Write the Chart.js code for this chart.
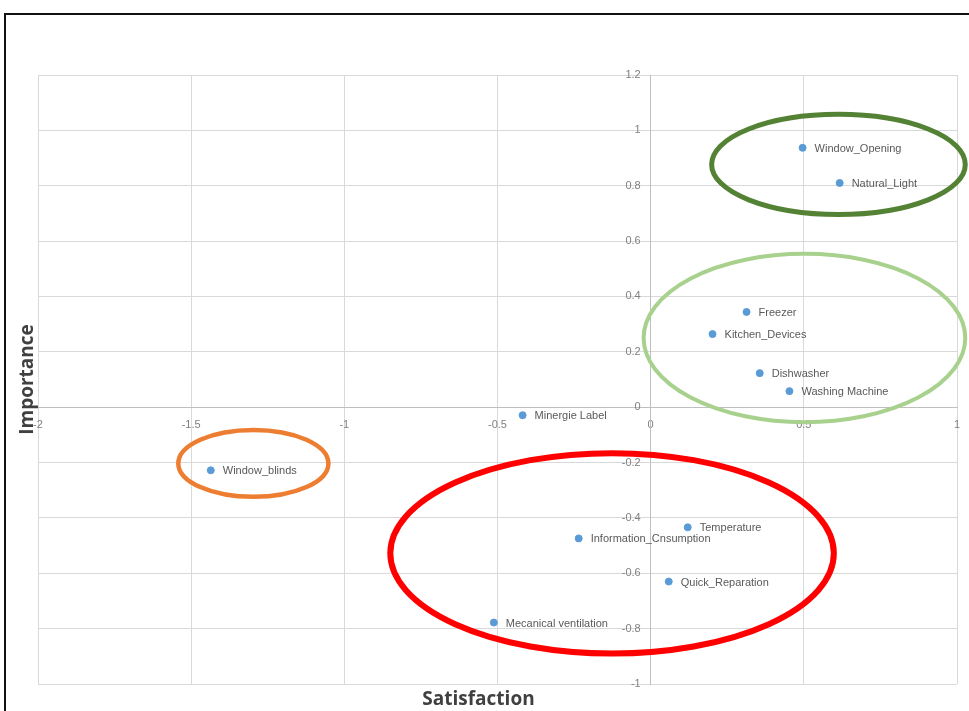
<!DOCTYPE html>
<html>
<head>
<meta charset="utf-8">
<script src="https://cdn.jsdelivr.net/npm/chart.js@4/dist/chart.umd.min.js"></script>
<style>
  html, body { margin: 0; padding: 0; background: #fff; overflow: hidden; }
  #frame { position: absolute; left: 4px; top: 13px; width: 2000px; height: 2000px; border: 2px solid #111; }
  #wrap { position: absolute; left: 0; top: 0; width: 969px; height: 711px; }
</style>
</head>
<body>
<div id="frame"></div>
<div id="wrap"><canvas id="c" width="969" height="711"></canvas></div>
<script>
// ---- data ----
const itemNames = ["Window_Opening", "Natural_Light", "Freezer", "Kitchen_Devices", "Dishwasher",
  "Washing Machine", "Minergie Label", "Window_blinds", "Temperature", "Information_Cnsumption",
  "Quick_Reparation", "Mecanical ventilation"];
const satisfaction = [0.496, 0.617, 0.313, 0.202, 0.356, 0.453, -0.418, -1.436, 0.121, -0.235, 0.059, -0.512];
const importance   = [0.937, 0.810, 0.344, 0.264, 0.123, 0.058, -0.029, -0.228, -0.434, -0.474, -0.630, -0.778];
const xTickValues = [-2, -1.5, -1, -0.5, 0, 0.5, 1];
const yTickValues = [-1, -0.8, -0.6, -0.4, -0.2, 0, 0.2, 0.4, 0.6, 0.8, 1, 1.2];
const axisTitleX = "Satisfaction";
const axisTitleY = "Importance";
// cluster ellipses (data units): centre x, centre y, radius x, radius y
const ellipseCx = [0.613, 0.502, -1.297, -0.126];
const ellipseCy = [0.877, 0.250, -0.203, -0.528];
const ellipseRx = [0.414, 0.525, 0.245, 0.724];
const ellipseRy = [0.181, 0.304, 0.121, 0.362];
const ellipseColors = ["#548235", "#a9d18e", "#ed7d31", "#ff0000"];
const ellipseWidths = [5, 4, 4.5, 6];

const points = satisfaction.map((x, i) => ({ x: x, y: importance[i] }));

const pointLabelPlugin = {
  id: 'pointLabels',
  afterDatasetsDraw(chart) {
    const ctx = chart.ctx;
    const meta = chart.getDatasetMeta(0);
    ctx.save();
    ctx.font = '11px "Liberation Sans", Arial, sans-serif';
    ctx.fillStyle = '#595959';
    ctx.textAlign = 'left';
    ctx.textBaseline = 'middle';
    meta.data.forEach((el, i) => {
      ctx.fillText(itemNames[i], el.x + 12, el.y + 1);
    });
    ctx.restore();
  }
};

// push the y tick labels a little away from the centred axis line
const yLabelGapPlugin = {
  id: 'yLabelGap',
  beforeDraw(chart) {
    const items = chart.scales.y.getLabelItems();
    if (!items._shifted) {
      items.forEach(it => { it.options.translation[0] -= 10; });
      items._shifted = true;
    }
  }
};

const ellipsePlugin = {
  id: 'clusterEllipses',
  afterDraw(chart) {
    const ctx = chart.ctx;
    const xs = chart.scales.x, ys = chart.scales.y;
    ctx.save();
    ellipseCx.forEach((cx, i) => {
      const px = xs.getPixelForValue(cx);
      const py = ys.getPixelForValue(ellipseCy[i]);
      const rx = Math.abs(xs.getPixelForValue(cx + ellipseRx[i]) - px);
      const ry = Math.abs(ys.getPixelForValue(ellipseCy[i] + ellipseRy[i]) - py);
      ctx.beginPath();
      ctx.ellipse(px, py, rx, ry, 0, 0, Math.PI * 2);
      ctx.strokeStyle = ellipseColors[i];
      ctx.lineWidth = ellipseWidths[i];
      ctx.stroke();
    });
    ctx.restore();
  }
};

new Chart(document.getElementById('c'), {
  type: 'scatter',
  data: {
    datasets: [{
      data: points,
      backgroundColor: '#5b9bd5',
      borderColor: '#5b9bd5',
      pointRadius: 3.5,
      pointHoverRadius: 3.5
    }]
  },
  options: {
    responsive: false,
    animation: false,
    events: [],
    layout: { padding: { top: 75, right: 12, left: 0, bottom: 0 } },
    plugins: {
      legend: { display: false },
      tooltip: { enabled: false },
      title: {
        display: true,
        text: axisTitleX,
        position: 'bottom',
        color: '#404040',
        font: { family: '"Open Sans", "Liberation Sans", sans-serif', size: 19, weight: 'bold', lineHeight: 1 },
        padding: { top: 6, bottom: 2 }
      },
      subtitle: {
        display: true,
        text: axisTitleY,
        position: 'left',
        fullSize: false,
        color: '#404040',
        font: { family: '"Open Sans", "Liberation Sans", sans-serif', size: 19, weight: 'bold', lineHeight: 1 },
        padding: { top: 18, bottom: 1 }
      }
    },
    scales: {
      x: {
        type: 'linear',
        position: { y: 0 },
        min: -2, max: 1,
        afterBuildTicks(scale) { scale.ticks = xTickValues.map(v => ({ value: v })); },
        ticks: {
          callback: (v) => String(v),
          color: '#808080',
          font: { family: '"Liberation Sans Narrow", "Liberation Sans", sans-serif', size: 11 },
          maxRotation: 0, autoSkip: false, padding: 3
        },
        grid: { color: '#d9d9d9', tickLength: 8, lineWidth: 1 },
        border: { color: '#bfbfbf', width: 1 }
      },
      y: {
        type: 'linear',
        position: { x: 0 },
        min: -1, max: 1.2,
        afterBuildTicks(scale) { scale.ticks = yTickValues.map(v => ({ value: v })); },
        ticks: {
          callback: (v) => String(v),
          color: '#808080',
          font: { family: '"Liberation Sans Narrow", "Liberation Sans", sans-serif', size: 11 },
          autoSkip: false, padding: 3
        },
        grid: { color: '#d9d9d9', tickLength: 8, lineWidth: 1 },
        border: { color: '#bfbfbf', width: 1 }
      }
    }
  },
  plugins: [yLabelGapPlugin, pointLabelPlugin, ellipsePlugin]
});
</script>
</body>
</html>
